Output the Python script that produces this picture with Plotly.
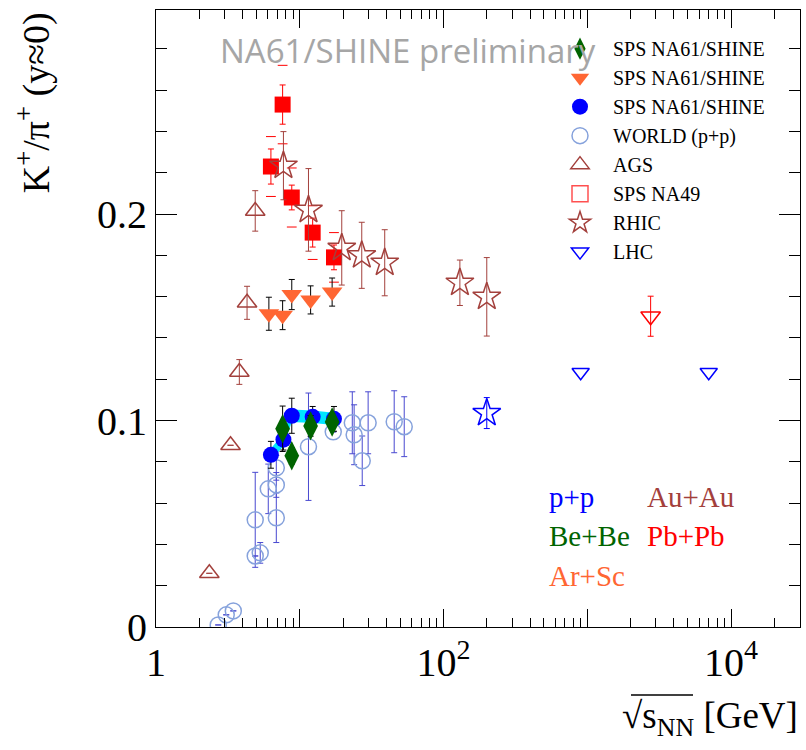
import plotly.graph_objects as go

# ---------------- data ----------------
# NA61/SHINE Be+Be
bebe_x = [7.6, 8.8, 11.9, 16.8]
bebe_y = [0.096, 0.0829, 0.0974, 0.0993]
bebe_e = [0.011, 0.004, 0.005, 0.004]

# NA61/SHINE Ar+Sc
arsc_x = [6.1, 7.6, 8.8, 11.9, 16.8]
arsc_y = [0.1517, 0.151, 0.161, 0.1584, 0.1622]
arsc_e = [0.008, 0.007, 0.0073, 0.0068, 0.0068]

# NA61/SHINE p+p
pp_x = [6.3, 7.7, 8.8, 12.3, 17.3]
pp_y = [0.0834, 0.0907, 0.1023, 0.1018, 0.1008]
pp_e = [0.0065, 0.005, 0.0085, 0.005, 0.006]
pp_sys = [0.003, 0.003, 0.003, 0.003, 0.003]

# WORLD p+p
world_x = [2.71, 3.08, 3.45, 4.9, 4.9, 5.31, 6.04, 6.87, 6.87, 6.87, 11.5, 17.1, 23.2, 23.9, 27.2, 29.9, 45.4, 53.3]
world_y = [0.001, 0.0059, 0.0078, 0.0519, 0.0344, 0.0359, 0.0669, 0.0771, 0.0688, 0.0529, 0.0873, 0.0945, 0.0989, 0.0931, 0.0805, 0.0989, 0.0994, 0.097]
world_e = [0, 0, 0, 0.023, 0, 0.005, 0.012, 0.006, 0.006, 0.012, 0.026, 0, 0.015, 0.0145, 0.012, 0.015, 0.015, 0.0145]

# AGS Au+Au
ags_x = [2.35, 3.3, 3.8, 4.3, 4.9]
ags_y = [0.026, 0.088, 0.1235, 0.157, 0.2015]
ags_e = [0, 0, 0.006, 0.008, 0.0098]

# SPS NA49 Pb+Pb
na49_x = [6.3, 7.6, 8.8, 12.3, 17.3]
na49_y = [0.223, 0.253, 0.208, 0.191, 0.179]
na49_e = [0.0085, 0.0095, 0.006, 0.007, 0.006]
na49_sys = [0.0145, 0.019, 0.0143, 0.013, 0.012]

# RHIC Au+Au
rhic_x = [7.7, 11.5, 19.6, 27, 39, 130, 200]
rhic_y = [0.2234, 0.202, 0.1836, 0.180, 0.1764, 0.1667, 0.1599]
rhic_e = [0.0165, 0.02, 0.018, 0.016, 0.016, 0.011, 0.019]

# RHIC p+p
rhicpp_x = [200]
rhicpp_y = [0.1036]
rhicpp_e = [0.0075]

# LHC p+p
lhc_x = [900, 7000]
lhc_y = [0.1234, 0.1234]

# LHC Pb+Pb
lhcpb_x = [2760]
lhcpb_y = [0.1505]
lhcpb_e = [0.0097]

# ---------------- colours ----------------
GREEN = "#006400"
ORANGE = "#ff6633"
BLUE = "#0000ff"
LBLUE = "#86a2dc"
EBLUE = "#4848d0"
BROWN = "#a3403c"
RED = "#ff0000"
CYAN = "#00e6ff"

SERIF = "Liberation Serif"

fig = go.Figure()

def eb(arr, color, width=3):
    return dict(type="data", array=arr, visible=True, color=color, thickness=1, width=width)

# p+p systematic band
band_x = pp_x + pp_x[::-1]
band_y = [y + s for y, s in zip(pp_y, pp_sys)] + [y - s for y, s in zip(pp_y, pp_sys)][::-1]
fig.add_trace(go.Scatter(x=band_x, y=band_y, fill="toself", fillcolor=CYAN, mode="lines",
                         line=dict(width=0, color=CYAN), showlegend=False, hoverinfo="skip"))

# WORLD p+p
fig.add_trace(go.Scatter(x=world_x, y=world_y, mode="markers", name="WORLD (p+p)",
                         marker=dict(symbol="circle-open", size=16, color=LBLUE, line=dict(width=1.5)),
                         error_y=eb(world_e, EBLUE), legendrank=4))

# NA49 systematic brackets
fig.add_trace(go.Scatter(x=na49_x + na49_x,
                         y=[y + s for y, s in zip(na49_y, na49_sys)] + [y - s for y, s in zip(na49_y, na49_sys)],
                         mode="markers", marker=dict(symbol="line-ew-open", size=7, color=RED, line=dict(width=1, color=RED)),
                         showlegend=False, hoverinfo="skip"))

# NA49 Pb+Pb (filled)
fig.add_trace(go.Scatter(x=na49_x, y=na49_y, mode="markers", showlegend=False,
                         marker=dict(symbol="square", size=16, color=RED),
                         error_y=eb(na49_e, RED)))
# NA49 legend entry (open square)
fig.add_trace(go.Scatter(x=[None], y=[None], mode="markers", name="SPS NA49",
                         marker=dict(symbol="square-open", size=16, color="#ff5050", line=dict(width=1.5)),
                         legendrank=6))

# RHIC
fig.add_trace(go.Scatter(x=rhic_x, y=rhic_y, mode="markers", name="RHIC",
                         marker=dict(symbol="star-open", size=21, color=BROWN, line=dict(width=1.5)),
                         error_y=eb(rhic_e, BROWN), legendrank=7))
fig.add_trace(go.Scatter(x=rhicpp_x, y=rhicpp_y, mode="markers", showlegend=False,
                         marker=dict(symbol="star-open", size=21, color=BLUE, line=dict(width=1.5)),
                         error_y=eb(rhicpp_e, BLUE)))

# AGS
fig.add_trace(go.Scatter(x=ags_x, y=ags_y, mode="markers", name="AGS",
                         marker=dict(symbol="triangle-up-open", size=17, color=BROWN, line=dict(width=1.5)),
                         error_y=eb(ags_e, BROWN), legendrank=5))

# LHC
fig.add_trace(go.Scatter(x=lhc_x, y=lhc_y, mode="markers", name="LHC",
                         marker=dict(symbol="triangle-down-open", size=15, color=BLUE, line=dict(width=1.5)),
                         legendrank=8))
fig.add_trace(go.Scatter(x=lhcpb_x, y=lhcpb_y, mode="markers", showlegend=False,
                         marker=dict(symbol="triangle-down-open", size=17, color=RED, line=dict(width=1.5)),
                         error_y=eb(lhcpb_e, RED)))

# Ar+Sc
fig.add_trace(go.Scatter(x=arsc_x, y=arsc_y, mode="markers", name="SPS NA61/SHINE",
                         marker=dict(symbol="triangle-down", size=18, color=ORANGE),
                         error_y=eb(arsc_e, "black"), legendrank=2))

# p+p NA61
fig.add_trace(go.Scatter(x=pp_x, y=pp_y, mode="markers", name="SPS NA61/SHINE",
                         marker=dict(symbol="circle", size=16, color=BLUE),
                         error_y=eb(pp_e, "black"), legendrank=3))

# Be+Be
fig.add_trace(go.Scatter(x=bebe_x, y=bebe_y, mode="markers", name="SPS NA61/SHINE",
                         marker=dict(symbol="diamond-tall", size=21, color=GREEN),
                         error_y=eb(bebe_e, "black"), legendrank=1))

# ---------------- axes ----------------
x_tickvals = [1, 10, 100, 1000, 10000]
x_ticktext = ["1", "", "10<sup>2</sup>", "", "10<sup>4</sup>"]
x_minor = [m * 10 ** k for k in range(0, 5) for m in range(2, 10) if m * 10 ** k <= 30000]

y_tickvals = [0, 0.1, 0.2]
y_ticktext = ["0", "0.1", "0.2"]

fig.update_xaxes(type="log", range=[0, 4.48], tickvals=x_tickvals, ticktext=x_ticktext,
                 ticks="inside", ticklen=18, tickcolor="black", tickwidth=1,
                 minor=dict(tickvals=x_minor, ticks="inside", ticklen=9, tickcolor="black", tickwidth=1),
                 showline=True, linecolor="black", linewidth=1, mirror="ticks",
                 showgrid=False, zeroline=False,
                 tickfont=dict(family=SERIF, size=40, color="black"))
fig.update_yaxes(range=[0, 0.2988], tickvals=y_tickvals, ticktext=y_ticktext,
                 ticks="inside", ticklen=21, tickcolor="black", tickwidth=1,
                 minor=dict(dtick=0.02, tick0=0, ticks="inside", ticklen=11, tickcolor="black", tickwidth=1),
                 showline=True, linecolor="black", linewidth=1, mirror="ticks",
                 showgrid=False, zeroline=False,
                 tickfont=dict(family=SERIF, size=40, color="black"))

annotations = [
    dict(text="NA61/SHINE preliminary", x=(218 - 156) / 644, y=0.935, xref="paper", yref="paper",
         xanchor="left", yanchor="middle", showarrow=False,
         font=dict(family="Open Sans", size=33, color="#a6a6a6")),
    dict(text="K<sup>+</sup>/π<sup>+</sup> (y≈0)", x=-0.19, y=1.0, xref="paper", yref="paper",
         xanchor="center", yanchor="top", textangle=-90, showarrow=False,
         font=dict(family=SERIF, size=38, color="black")),
    dict(text="√s<sub>NN</sub> [GeV]", x=1.0, y=-0.148,
         xref="paper", yref="paper", xanchor="right", yanchor="middle", showarrow=False,
         font=dict(family=SERIF, size=37, color="black")),
]
labels = [("p+p", BLUE, 547, 497), ("Au+Au", BROWN, 645, 497), ("Be+Be", GREEN, 547, 536),
          ("Pb+Pb", RED, 645, 536), ("Ar+Sc", ORANGE, 547, 576)]
for txt, col, px, py in labels:
    annotations.append(dict(text=txt, x=(px - 156) / 644, y=(627 - py) / 617, xref="paper", yref="paper",
                            xanchor="left", yanchor="middle", showarrow=False,
                            font=dict(family=SERIF, size=29, color=col)))

# overline of the square-root sign in the x title
shapes = [dict(type="line", xref="paper", yref="paper",
               x0=(631 - 156) / 644, x1=(693 - 156) / 644,
               y0=(627 - 695) / 617, y1=(627 - 695) / 617,
               line=dict(color="black", width=1.5))]

fig.update_layout(
    width=806, height=750,
    margin=dict(l=156, r=6, t=10, b=123),
    paper_bgcolor="white", plot_bgcolor="white",
    showlegend=True,
    legend=dict(x=(547 - 156) / 644, y=0.969, xanchor="left", yanchor="top", bgcolor="rgba(0,0,0,0)",
                itemwidth=56,
                font=dict(family=SERIF, size=20, color="black"), borderwidth=0),
    annotations=annotations,
    shapes=shapes,
)

fig.write_html("out.html")
